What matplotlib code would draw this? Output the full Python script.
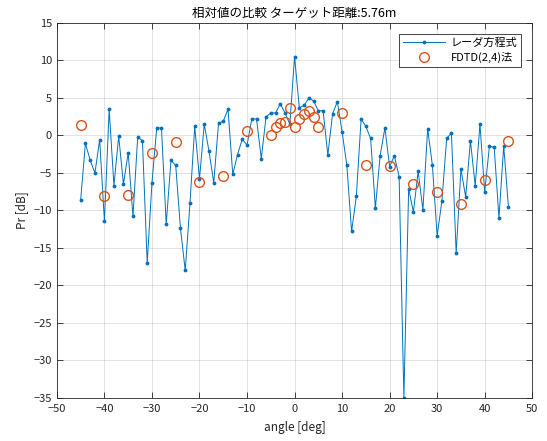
import matplotlib.pyplot as plt
import numpy as np

plt.rcParams['font.family'] = ['Noto Sans CJK JP', 'DejaVu Sans']
plt.rcParams['axes.unicode_minus'] = True

# radar equation, 1 deg step from -45 to 45
angle = np.arange(-45, 46)
pr_radar = [
    -8.6, -1.05, -3.3, -5.0, -0.6, -11.4, 3.5, -6.7, -0.1, -6.5,
    -2.3, -10.8, -0.2, -0.7, -17.0, -6.3, 1.0, 1.0, -11.8, -3.3,
    -4.0, -12.4, -18.0, -9.0, 1.2, -5.8, 1.5, -2.1, -6.3, 1.6,
    1.9, 3.5, -5.2, -2.55, -0.5, -1.3, 2.2, 2.2, -3.1, 2.5,
    3.0, 3.0, 4.2, 3.0, 1.5, 10.5, 3.7, 4.0, 5.0, 4.6,
    3.3, 3.3, -2.6, 2.9, 4.5, 0.5, -4.0, -12.8, -8.1, 2.2,
    1.2, -0.4, -9.7, -2.7, 1.0, -4.15, -2.7, -5.5, -35.0, -7.1,
    -10.2, -4.8, -9.9, 0.9, -4.0, -13.4, -8.7, -0.4, 0.3, -15.7,
    -4.5, -8.2, -0.7, -6.7, 1.5, -7.5, -1.4, -1.6, -11.0, -1.4,
    -9.6,
]

# FDTD(2,4) results
angle_fdtd = [-45, -40, -35, -30, -25, -20, -15, -10,
              -5, -4, -3, -2, -1, 0, 1, 2, 3, 4, 5,
              10, 15, 20, 25, 30, 35, 40, 45]
pr_fdtd = [1.4, -8.1, -7.9, -2.4, -0.9, -6.15, -5.45, 0.65,
           0.1, 1.1, 1.6, 1.8, 3.7, 1.1, 2.2, 2.8, 3.2, 2.4, 1.1,
           3.0, -4.0, -4.1, -6.5, -7.5, -9.2, -5.9, -0.7]

blue = '#0072BD'
orange = '#D95319'
axcol = '#262626'

fig = plt.figure(figsize=(5.47, 4.41), dpi=100)
ax = fig.add_axes([0.104, 0.0975, 0.869, 0.8505])

ax.plot(angle, pr_radar, color=blue, lw=0.7, marker='.', ms=3.5, label='レーダ方程式')
ax.plot(angle_fdtd, pr_fdtd, ls='none', marker='o', ms=7, mfc='none',
        mec=orange, mew=1.0, label='FDTD(2,4)法')

ax.set_xlim(-50, 50)
ax.set_ylim(-35, 15)
ax.set_xticks(np.arange(-50, 51, 10))
ax.set_yticks(np.arange(-35, 16, 5))
ax.grid(True, color='#262626', alpha=0.15, lw=0.6)
ax.tick_params(direction='in', top=True, right=True, labelsize=8,
               colors=axcol, length=4, width=0.6)
ax.tick_params(axis='x', pad=4)
for s in ax.spines.values():
    s.set_color(axcol)
    s.set_linewidth(0.6)

ax.set_xlabel('angle [deg]', fontsize=8.5, color=axcol, labelpad=5)
ax.set_ylabel('Pr [dB]', fontsize=8.5, color=axcol, labelpad=4)
ax.set_title('相対値の比較 ターゲット距離:5.76m', fontsize=9, color='black', pad=4)

leg = ax.legend(loc='upper right', fontsize=8, fancybox=False, framealpha=1,
                edgecolor=axcol, borderaxespad=1.0, handlelength=3.8,
                borderpad=0.35, labelspacing=0.3, handletextpad=0.5)
leg.get_frame().set_linewidth(0.6)

fig.savefig('out.png', dpi=100)
